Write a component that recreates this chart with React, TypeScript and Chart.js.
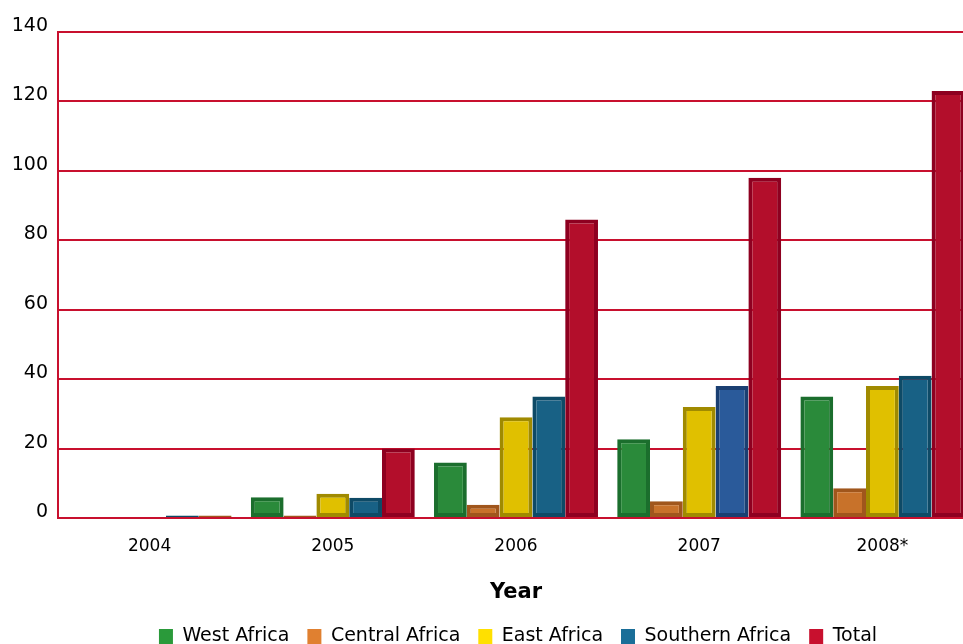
import { useEffect, useRef } from 'react';
import { Chart, registerables } from 'chart.js';

Chart.register(...registerables);

const categories = ['2004', '2005', '2006', '2007', '2008*'];
const westAfrica = [null, 6, 16, 22.7, 35];
const centralAfrica = [null, 0.7, 3.8, 4.8, 8.6];
const eastAfrica = [null, 7, 29, 32, 38];
const southernAfrica = [0.7, 5.8, 35, 38, 41];
const total = [0.7, 20, 86, 98, 123];
const seriesNames = ['West Africa', 'Central Africa', 'East Africa', 'Southern Africa', 'Total'];
const yMin = 0;
const yMax = 140;
const yStep = 20;
const xTitle = 'Year';

const legendColors = ['#2a9a3a', '#e08030', '#ffe000', '#1a6e98', '#c8102e'];

export default function App() {
  const ref = useRef<HTMLCanvasElement>(null);

  useEffect(() => {
    if (!ref.current) return;
    const shiftLegend = {
      id: 'shiftLegend',
      afterLayout(chart: any) {
        const lg = chart.legend;
        if (lg) {
          lg.left += 31;
          lg.right += 31;
        }
      },
    };
    const chart = new Chart(ref.current, {
      type: 'bar',
      data: {
        labels: categories,
        datasets: [
          {
            label: seriesNames[0],
            data: westAfrica,
            backgroundColor: '#2a8a3a',
            borderColor: '#1b6e2d',
          },
          {
            label: seriesNames[1],
            data: centralAfrica,
            backgroundColor: '#c8722a',
            borderColor: '#a0561c',
          },
          {
            label: seriesNames[2],
            data: eastAfrica,
            backgroundColor: '#e0c000',
            borderColor: '#a08a00',
          },
          {
            label: seriesNames[3],
            data: southernAfrica,
            backgroundColor: ['#186185', '#186185', '#186185', '#2a5a9a', '#186185'],
            borderColor: ['#0e4a66', '#0e4a66', '#0e4a66', '#1a3f72', '#0e4a66'],
          },
          {
            label: seriesNames[4],
            data: total,
            backgroundColor: ['#c8722a', '#b30e2b', '#b30e2b', '#b30e2b', '#b30e2b'],
            borderColor: ['#a0561c', '#8e0020', '#8e0020', '#8e0020', '#8e0020'],
          },
        ] as any,
      },
      options: {
        responsive: false,
        animation: false,
        devicePixelRatio: 1,
        layout: { padding: { top: 32, right: 56, left: 0, bottom: 0 } },
        datasets: {
          bar: {
            borderWidth: 4,
            borderSkipped: false,
            barPercentage: 1,
            categoryPercentage: 0.895,
          } as any,
        },
        scales: {
          x: {
            grid: { display: false, drawTicks: false },
            border: { display: true, color: '#c8102e', width: 2 },
            ticks: {
              color: '#000',
              font: { family: 'DejaVu Sans', size: 17 },
              padding: 18,
              maxRotation: 0,
            },
            title: {
              display: true,
              text: xTitle,
              color: '#000',
              font: { family: 'DejaVu Sans', size: 21, weight: 'bold' },
              padding: { top: 0, bottom: 4 },
            },
            afterFit(scale: any) {
              scale.height = 91;
            },
          },
          y: {
            min: yMin,
            max: yMax,
            grid: { color: '#c8102e', lineWidth: 2, drawTicks: false },
            border: { display: true, color: '#c8102e', width: 2 },
            ticks: {
              stepSize: yStep,
              color: '#000',
              font: { family: 'DejaVu Sans', size: 19 },
              padding: 10,
              labelOffset: -6,
            },
            afterFit(scale: any) {
              scale.width = 58;
            },
          },
        },
        plugins: {
          tooltip: { enabled: false },
          legend: {
            position: 'bottom',
            labels: {
              boxWidth: 14,
              boxHeight: 15,
              padding: 18,
              color: '#000',
              font: { family: 'DejaVu Sans', size: 19 },
              generateLabels: () =>
                seriesNames.map((name, i) => ({
                  text: name,
                  fillStyle: legendColors[i],
                  strokeStyle: legendColors[i],
                  lineWidth: 0,
                  hidden: false,
                  datasetIndex: i,
                })),
            },
          },
        },
      },
      plugins: [shiftLegend],
    });
    return () => chart.destroy();
  }, []);

  return (
    <div
      style={{
        position: 'fixed',
        left: 0,
        top: 0,
        width: 963,
        height: 644,
        overflow: 'hidden',
        background: '#fff',
      }}
    >
      <canvas ref={ref} width={1030} height={656} style={{ display: 'block', width: 1030, height: 656 }} />
    </div>
  );
}
